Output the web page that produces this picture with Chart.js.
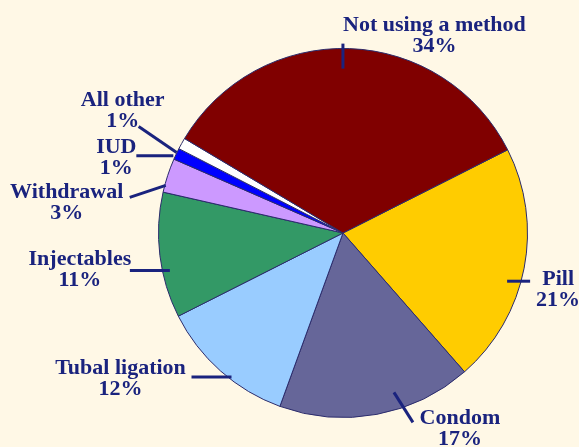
<!DOCTYPE html>
<html>
<head>
<meta charset="utf-8">
<script src="https://cdn.jsdelivr.net/npm/chart.js@4"></script>
<style>
  html, body { margin: 0; padding: 0; background: #FFF8E6; }
  #wrap { width: 579px; height: 447px; position: relative; }
</style>
</head>
<body>
<div id="wrap"><canvas id="chart" width="579" height="447"></canvas></div>
<script>
// clockwise from the Pill slice
const methods = ["Pill", "Condom", "Tubal ligation", "Injectables", "Withdrawal", "IUD", "All other", "Not using a method"];
const shares = [21, 17, 12, 11, 3, 1, 1, 34];
const sliceColors = ["#FFCC00", "#666699", "#99CCFF", "#339966", "#CC99FF", "#0000FF", "#FFFFFF", "#800000"];

const ink = "#1A237E";

// callout layout, offsets from the rim point at each slice's middle angle
const callouts = [
  { line: [-17, 13, 6, 13], text: [34, 11] },
  { line: [17, -22, 36, 8], text: [83, 4] },
  { line: [-29, 6, 11, 6], text: [-100, -3] },
  { line: [-30, 15, 10, 15], text: [-80, 4] },
  { line: [-38, 22, -2, 10], text: [-101, 17] },
  { line: [-40, 2, -3, 2], text: [-60, -7] },
  { line: [-43, -17, -5, 9], text: [-59, -43] },
  { line: [-6.5, -5, -6.5, 20], text: [85, -23] },
];

const calloutPlugin = {
  id: "callouts",
  afterDatasetsDraw(chart) {
    const ctx = chart.ctx;
    const arcs = chart.getDatasetMeta(0).data;
    ctx.save();
    arcs.forEach((arc, i) => {
      const { x, y, startAngle, endAngle, outerRadius } = arc.getProps(["x", "y", "startAngle", "endAngle", "outerRadius"], true);
      const mid = (startAngle + endAngle) / 2;
      const rx = x + Math.cos(mid) * outerRadius;
      const ry = y + Math.sin(mid) * outerRadius;
      const c = callouts[i];

      ctx.strokeStyle = ink;
      ctx.lineWidth = 3;
      ctx.beginPath();
      ctx.moveTo(rx + c.line[0], ry + c.line[1]);
      ctx.lineTo(rx + c.line[2], ry + c.line[3]);
      ctx.stroke();

      ctx.fillStyle = ink;
      ctx.font = 'bold 22px "Liberation Serif", serif';
      ctx.textAlign = "center";
      ctx.textBaseline = "middle";
      ctx.fillText(methods[i], rx + c.text[0], ry + c.text[1]);
      ctx.fillText(shares[i] + "%", rx + c.text[0], ry + c.text[1] + 21);
    });
    ctx.restore();
  },
};

new Chart(document.getElementById("chart"), {
  type: "pie",
  data: {
    labels: methods,
    datasets: [{
      data: shares,
      backgroundColor: sliceColors,
      borderColor: "#2B2B6B",
      borderWidth: 1,
    }],
  },
  options: {
    responsive: false,
    animation: false,
    rotation: 63.2,
    layout: { padding: { left: 158, right: 51, top: 48, bottom: 29 } },
    plugins: {
      legend: { display: false },
      tooltip: { enabled: false },
    },
  },
  plugins: [calloutPlugin],
});
</script>
</body>
</html>
